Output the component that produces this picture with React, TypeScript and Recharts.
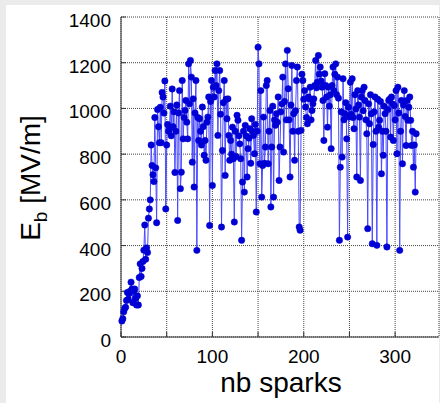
import React from 'react';
import { LineChart, Line, XAxis, YAxis, CartesianGrid } from 'recharts';

// breakdown field per spark (MV/m)
const ebValues = [
  70, 80, 110, 125, 130, 160, 195, 165, 190, 200,
  240, 210, 150, 200, 210, 170, 140, 180, 140, 260,
  320, 265, 300, 330, 380, 490, 340, 390, 370, 520,
  560, 600, 840, 750, 710, 680, 960, 740, 500, 995,
  920, 850, 1005, 850, 1070, 1050, 980, 1120, 560, 840,
  930, 900, 910, 1010, 880, 1085, 920, 985, 720, 900,
  1015, 510, 980, 1078, 649, 721, 1122, 867, 960, 991,
  1035, 940, 867, 1195, 1020, 1210, 1137, 765, 1042, 656,
  980, 1122, 379, 960, 860, 955, 900, 840, 1006, 920,
  795, 860, 773, 940, 962, 1050, 488, 1030, 1122, 663,
  1093, 1050, 1166, 1100, 1195, 882, 1078, 1166, 975, 481,
  816, 1025, 1122, 707, 1040, 955, 1042, 882, 773, 860,
  800, 918, 780, 503, 900, 790, 970, 948, 880, 845,
  780, 423, 678, 900, 634, 926, 880, 700, 824, 870,
  911, 760, 955, 900, 882, 802, 930, 547, 900, 1268,
  1195, 758, 1078, 612, 750, 962, 760, 831, 1100, 1122,
  758, 900, 991, 569, 831, 1010, 612, 950, 926, 977,
  940, 1050, 685, 831, 985, 1020, 1137, 809, 1030, 1195,
  950, 1254, 1086, 950, 700, 1015, 1188, 900, 977, 773,
  990, 1122, 1181, 900, 481, 467, 904, 1150, 1122, 1040,
  1078, 1006, 960, 933, 1050, 1042, 1093, 950, 991, 1020,
  1042, 1100, 1210, 1090, 1115, 1232, 1150, 1181, 1120, 1093,
  1035, 860, 1152, 1100, 1050, 918, 1093, 1010, 1060, 824,
  1100, 1181, 1078, 1150, 1195, 1060, 1137, 1045, 423, 743,
  985, 787, 1130, 950, 977, 1025, 867, 437, 1005, 962,
  1115, 975, 1130, 960, 911, 1060, 998, 700, 1078, 1015,
  962, 685, 1050, 1078, 990, 1093, 1035, 950, 889, 474,
  1020, 933, 1060, 977, 408, 842, 985, 1050, 900, 401,
  1040, 918, 948, 1030, 714, 900, 795, 1010, 977, 900,
  394, 995, 1035, 1040, 875, 1050, 1020, 860, 1013, 950,
  1078, 802, 1093, 980, 379, 900, 1035, 758, 1015, 1078,
  965, 838, 1035, 948, 1005, 1050, 948, 838, 900, 743,
  840, 634, 889,
];

const xTicks = [0, 50, 100, 150, 200, 250, 300];
const xLabelled = [0, 100, 200, 300];
const yTicks = [0, 200, 400, 600, 800, 1000, 1200, 1400];

const data = ebValues.map((eb, i) => ({ spark: i + 1, eb }));

const font = '"Liberation Sans", Arial, sans-serif';

const XTick = (props: any) => {
  const v = props.payload.value;
  if (!xLabelled.includes(v)) return <g />;
  return (
    <text x={props.payload.coordinate} y={363} textAnchor="middle" fontSize={19} fontFamily={font} fill="#000">
      {v}
    </text>
  );
};

const YTick = (props: any) => (
  <text x={111} y={props.payload.coordinate + 10} textAnchor="end" fontSize={19} fontFamily={font} fill="#000">
    {props.payload.value}
  </text>
);

export default function App() {
  return (
    <div style={{ position: 'absolute', left: 0, top: 0, width: 440, height: 403, background: '#ebebeb' }}>
      <div style={{ position: 'absolute', left: 6, top: 5, width: 433, height: 398, background: '#fff' }} />
      <div style={{ position: 'absolute', left: 0, top: 0 }}>
        <LineChart width={440} height={403} data={data} margin={{ top: 17, right: 1, bottom: 0, left: 61 }}>
          <CartesianGrid stroke="#444" strokeDasharray="1 1" />
          <XAxis
            dataKey="spark"
            type="number"
            domain={[0, 348]}
            ticks={xTicks}
            height={66}
            tickSize={-5}
            stroke="#333"
            tick={XTick}
            label={{
              content: () => (
                <text x={281} y={392} textAnchor="middle" fontSize={28} fontFamily={font} fill="#000">
                  nb sparks
                </text>
              ),
            }}
          />
          <XAxis xAxisId="top" orientation="top" type="number" domain={[0, 348]} height={0} tick={false} tickLine={false} stroke="#333" />
          <YAxis
            type="number"
            domain={[0, 1400]}
            ticks={yTicks}
            width={60}
            tickSize={-5}
            stroke="#333"
            tick={YTick}
            label={{
              content: () => (
                <text transform="rotate(-90)" x={-178} y={40} textAnchor="middle" fontSize={28} fontFamily={font} fill="#000">
                  E<tspan fontSize={19} dy={7}>b</tspan>
                  <tspan dy={-7}> [MV/m]</tspan>
                </text>
              ),
            }}
          />
          <YAxis yAxisId="right" orientation="right" type="number" domain={[0, 1400]} width={0} tick={false} tickLine={false} stroke="#333" />
          <Line
            dataKey="eb"
            type="linear"
            stroke="#4a4aff"
            strokeWidth={1}
            dot={{ r: 3.2, fill: '#0000d4', stroke: '#0000d4', strokeWidth: 0.5 }}
            isAnimationActive={false}
          />
        </LineChart>
      </div>
    </div>
  );
}
